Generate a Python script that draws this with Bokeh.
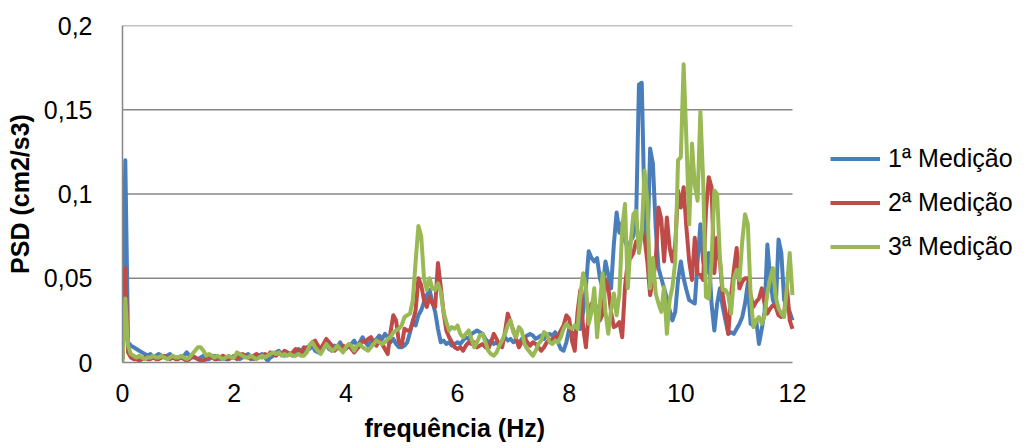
import numpy as np
from bokeh.plotting import figure
from bokeh.models import Legend, LegendItem, FixedTicker, Range1d, ColumnDataSource, Title
from bokeh.embed import file_html
from bokeh.resources import INLINE

# frequency axis (Hz), 0.05 Hz resolution
freq = np.round(np.arange(241) * 0.05, 2)

series_names = ["1ª Medição", "2ª Medição", "3ª Medição"]
y_ticks = [0, 0.05, 0.1, 0.15, 0.2]
y_tick_labels = ["0", "0,05", "0,1", "0,15", "0,2"]
x_ticks = [0, 2, 4, 6, 8, 10, 12]

med1 = [
    0.002, 0.120, 0.012, 0.010, 0.009, 0.008, 0.007, 0.006, 0.005, 0.004, 0.005, 0.003, 0.004, 0.005, 0.004, 0.003, 0.004, 0.005, 0.003, 0.003,
    0.003, 0.003, 0.004, 0.006, 0.004, 0.003, 0.003, 0.002, 0.003, 0.004, 0.002, 0.002, 0.003, 0.004, 0.003, 0.002, 0.003, 0.002, 0.002, 0.003,
    0.004, 0.003, 0.002, 0.003, 0.004, 0.005, 0.003, 0.002, 0.003, 0.004, 0.005, 0.003, 0.001, 0.003, 0.004, 0.006, 0.007, 0.005, 0.004, 0.006,
    0.005, 0.004, 0.006, 0.008, 0.007, 0.006, 0.009, 0.008, 0.010, 0.007, 0.006, 0.008, 0.010, 0.011, 0.008, 0.007, 0.010, 0.009, 0.012, 0.008,
    0.008, 0.010, 0.011, 0.013, 0.010, 0.012, 0.015, 0.012, 0.010, 0.013, 0.012, 0.014, 0.016, 0.014, 0.017, 0.015, 0.012, 0.014, 0.011, 0.009,
    0.009, 0.010, 0.012, 0.018, 0.025, 0.022, 0.028, 0.031, 0.036, 0.040, 0.043, 0.036, 0.030, 0.020, 0.012, 0.013, 0.011, 0.012, 0.010, 0.011,
    0.012, 0.011, 0.013, 0.015, 0.014, 0.017, 0.018, 0.019, 0.018, 0.017, 0.014, 0.012, 0.013, 0.011, 0.012, 0.010, 0.013, 0.015, 0.013, 0.014,
    0.012, 0.013, 0.011, 0.014, 0.015, 0.016, 0.017, 0.016, 0.014, 0.015, 0.016, 0.014, 0.016, 0.017, 0.016, 0.018, 0.012, 0.008, 0.007, 0.012,
    0.020, 0.018, 0.016, 0.022, 0.020, 0.030, 0.045, 0.066, 0.062, 0.060, 0.062, 0.050, 0.044, 0.060, 0.052, 0.044, 0.070, 0.089, 0.077, 0.083,
    0.072, 0.068, 0.072, 0.075, 0.086, 0.165, 0.166, 0.090, 0.065, 0.127, 0.118, 0.080, 0.056, 0.050, 0.044, 0.038, 0.031, 0.025, 0.030, 0.049,
    0.060, 0.050, 0.043, 0.037, 0.036, 0.035, 0.060, 0.082, 0.060, 0.053, 0.065, 0.035, 0.019, 0.035, 0.044, 0.033, 0.025, 0.017, 0.018, 0.017,
    0.020, 0.023, 0.027, 0.035, 0.047, 0.023, 0.022, 0.025, 0.011, 0.020, 0.030, 0.070, 0.050, 0.037, 0.033, 0.073, 0.065, 0.037, 0.035, 0.030,
    0.025,
]

med2 = [
    0.002, 0.056, 0.006, 0.003, 0.002, 0.002, 0.001, 0.002, 0.003, 0.002, 0.002, 0.003, 0.002, 0.002, 0.003, 0.004, 0.003, 0.002, 0.003, 0.002,
    0.002, 0.003, 0.002, 0.001, 0.002, 0.004, 0.003, 0.002, 0.001, 0.001, 0.002, 0.003, 0.004, 0.002, 0.002, 0.003, 0.004, 0.003, 0.002, 0.003,
    0.003, 0.002, 0.004, 0.005, 0.004, 0.003, 0.002, 0.004, 0.005, 0.004, 0.003, 0.005, 0.004, 0.006, 0.005, 0.004, 0.006, 0.005, 0.007, 0.006,
    0.005, 0.006, 0.008, 0.007, 0.006, 0.009, 0.008, 0.010, 0.012, 0.013, 0.010, 0.008, 0.011, 0.014, 0.012, 0.010, 0.007, 0.009, 0.008, 0.010,
    0.009, 0.010, 0.008, 0.006, 0.008, 0.010, 0.013, 0.012, 0.014, 0.015, 0.012, 0.010, 0.013, 0.011, 0.008, 0.005, 0.018, 0.028, 0.025, 0.012,
    0.010, 0.020, 0.019, 0.019, 0.024, 0.031, 0.050, 0.046, 0.037, 0.033, 0.039, 0.035, 0.033, 0.059, 0.045, 0.030, 0.019, 0.015, 0.012, 0.009,
    0.008, 0.009, 0.007, 0.010, 0.012, 0.011, 0.012, 0.009, 0.010, 0.011, 0.009, 0.008, 0.012, 0.017, 0.014, 0.010, 0.009, 0.018, 0.029, 0.024,
    0.019, 0.014, 0.009, 0.012, 0.015, 0.012, 0.010, 0.012, 0.011, 0.009, 0.007, 0.009, 0.012, 0.013, 0.014, 0.015, 0.016, 0.019, 0.022, 0.028,
    0.026, 0.013, 0.007, 0.030, 0.043, 0.021, 0.009, 0.029, 0.035, 0.037, 0.030, 0.025, 0.029, 0.049, 0.045, 0.030, 0.021, 0.022, 0.024, 0.015,
    0.045, 0.060, 0.062, 0.065, 0.072, 0.070, 0.078, 0.074, 0.060, 0.040, 0.049, 0.060, 0.092, 0.085, 0.060, 0.086, 0.068, 0.060, 0.070, 0.102,
    0.092, 0.104, 0.080, 0.060, 0.049, 0.074, 0.053, 0.052, 0.049, 0.090, 0.110, 0.104, 0.053, 0.074, 0.060, 0.040, 0.030, 0.017, 0.040, 0.055,
    0.068, 0.044, 0.048, 0.050, 0.050, 0.040, 0.033, 0.036, 0.038, 0.044, 0.035, 0.029, 0.032, 0.034, 0.033, 0.028, 0.027, 0.029, 0.045, 0.025,
    0.020,
]

med3 = [
    0.000, 0.038, 0.010, 0.005, 0.004, 0.003, 0.004, 0.003, 0.002, 0.003, 0.003, 0.004, 0.003, 0.003, 0.004, 0.003, 0.002, 0.003, 0.004, 0.003,
    0.003, 0.004, 0.003, 0.002, 0.003, 0.005, 0.007, 0.009, 0.009, 0.007, 0.004, 0.005, 0.004, 0.003, 0.004, 0.003, 0.002, 0.003, 0.004, 0.003,
    0.003, 0.006, 0.005, 0.004, 0.003, 0.003, 0.004, 0.003, 0.002, 0.003, 0.004, 0.003, 0.004, 0.005, 0.006, 0.005, 0.006, 0.004, 0.005, 0.004,
    0.005, 0.004, 0.004, 0.005, 0.004, 0.004, 0.006, 0.010, 0.012, 0.009, 0.007, 0.005, 0.008, 0.011, 0.009, 0.007, 0.008, 0.010, 0.008, 0.006,
    0.009, 0.011, 0.010, 0.007, 0.010, 0.011, 0.009, 0.008, 0.007, 0.009, 0.011, 0.013, 0.012, 0.011, 0.012, 0.014, 0.015, 0.018, 0.019, 0.020,
    0.022, 0.027, 0.028, 0.029, 0.037, 0.060, 0.081, 0.075, 0.050, 0.043, 0.050, 0.044, 0.043, 0.047, 0.042, 0.030, 0.024, 0.019, 0.021, 0.020,
    0.022, 0.017, 0.015, 0.017, 0.019, 0.014, 0.009, 0.012, 0.016, 0.017, 0.012, 0.007, 0.005, 0.004, 0.006, 0.010, 0.013, 0.017, 0.022, 0.025,
    0.018, 0.015, 0.021, 0.019, 0.011, 0.008, 0.006, 0.004, 0.007, 0.011, 0.013, 0.018, 0.017, 0.012, 0.011, 0.013, 0.012, 0.015, 0.020, 0.023,
    0.021, 0.020, 0.022, 0.020, 0.040, 0.053, 0.045, 0.023, 0.030, 0.044, 0.015, 0.035, 0.053, 0.030, 0.017, 0.031, 0.041, 0.028, 0.041, 0.080,
    0.094, 0.044, 0.070, 0.088, 0.090, 0.065, 0.077, 0.114, 0.096, 0.044, 0.062, 0.041, 0.035, 0.030, 0.045, 0.017, 0.037, 0.045, 0.060, 0.120,
    0.122, 0.177, 0.132, 0.082, 0.130, 0.105, 0.096, 0.149, 0.108, 0.039, 0.038, 0.060, 0.102, 0.100, 0.062, 0.043, 0.043, 0.040, 0.029, 0.050,
    0.055, 0.049, 0.072, 0.088, 0.082, 0.040, 0.021, 0.025, 0.027, 0.023, 0.028, 0.041, 0.050, 0.056, 0.039, 0.032, 0.029, 0.027, 0.045, 0.065,
    0.040,
]

colors = ["#4A7EBB", "#BE4B48", "#98B954"]
FONT = "Liberation Sans"
GRID = "#878787"

# plot frame: the data area is 670 px wide for 0..12 Hz; the frame extends to the
# right edge so the legend (which sits right of the data) stays visible
FRAME_W = 904
DATA_W = 670
x_end = x_ticks[-1] * FRAME_W / DATA_W

p = figure(width=1026, height=448, output_backend="svg", toolbar_location=None,
           x_range=Range1d(0, x_end), y_range=Range1d(0, y_ticks[-1]),
           min_border_left=122, min_border_right=0, min_border_top=25, min_border_bottom=86)
p.outline_line_color = None
p.background_fill_color = "white"
p.border_fill_color = "white"

p.xgrid.grid_line_color = None
p.ygrid.grid_line_color = None

# horizontal gridlines limited to the data extent (0..12 Hz)
p.segment(x0=x_ticks[0], x1=x_ticks[-1], y0=y_ticks[1:], y1=y_ticks[1:],
          line_color=GRID, line_width=1.5, level="underlay")

p.yaxis.ticker = FixedTicker(ticks=y_ticks)
p.yaxis.major_label_overrides = {t: l for t, l in zip(y_ticks, y_tick_labels)}
p.xaxis.ticker = FixedTicker(ticks=x_ticks)
p.xaxis.bounds = (x_ticks[0], x_ticks[-1])

for ax in (p.xaxis[0], p.yaxis[0]):
    ax.axis_line_color = GRID
    ax.axis_line_width = 1.5
    ax.major_tick_line_color = None
    ax.minor_tick_line_color = None
    ax.major_label_text_font = FONT
    ax.major_label_text_font_size = "25px"
    ax.major_label_text_color = "black"
    ax.axis_label_text_font = FONT
    ax.axis_label_text_font_size = "25px"
    ax.axis_label_text_font_style = "bold"
    ax.axis_label_text_color = "black"

p.yaxis.axis_label = "PSD (cm2/s3)"
p.yaxis.major_label_standoff = 24
p.yaxis.axis_label_standoff = 7
p.xaxis.major_label_standoff = 15

xtitle = Title(text="frequência (Hz)", align="left", offset=242, standoff=14,
               text_font=FONT, text_font_size="25px", text_font_style="bold",
               text_color="black")
p.add_layout(xtitle, "below")

src = ColumnDataSource(dict(f=freq, m1=med1, m2=med2, m3=med3))
items = []
for key, name, c in zip(["m1", "m2", "m3"], series_names, colors):
    r = p.line("f", key, source=src, line_color=c, line_width=4, line_join="round")
    items.append(LegendItem(label=name, renderers=[r]))

legend = Legend(items=items, location=(708, 101), glyph_width=50, glyph_height=25,
                label_height=25, spacing=15, label_standoff=8, padding=0, margin=0,
                border_line_color=None, background_fill_alpha=0,
                label_text_font=FONT, label_text_font_size="25px", label_text_color="black")
p.add_layout(legend)

open("out.html", "w").write(file_html(p, INLINE))
